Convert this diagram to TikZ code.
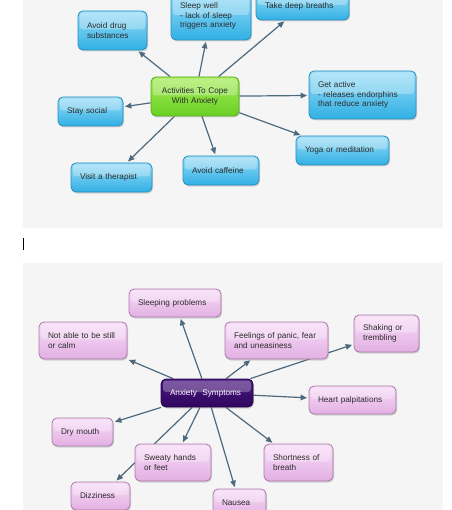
\documentclass[tikz,border=0pt]{standalone}
\usepackage{fontspec}
\setmainfont{Liberation Sans}
\usetikzlibrary{arrows.meta,shadows}
\pgfdeclarelayer{bg}
\pgfdeclarelayer{edges}
\pgfsetlayers{bg,edges,main}
\definecolor{bluetop}{HTML}{9ADDF7}
\definecolor{bluebot}{HTML}{30B0E4}
\definecolor{blueline}{HTML}{2A8DBF}
\definecolor{greentop}{HTML}{A6EC58}
\definecolor{greenbot}{HTML}{68D024}
\definecolor{greenline}{HTML}{5AA81E}
\definecolor{pinktop}{HTML}{F8DCF8}
\definecolor{pinkbot}{HTML}{E2B0E2}
\definecolor{pinkline}{HTML}{A87AA8}
\definecolor{purptop}{HTML}{4A1880}
\definecolor{purpbot}{HTML}{30065E}
\definecolor{purpline}{HTML}{24004A}
\definecolor{arrowc}{HTML}{4D697E}
\definecolor{txt}{HTML}{2C2C2C}
\definecolor{panel}{HTML}{F5F5F5}
\tikzset{
  box/.style={draw, line width=0.8bp, rounded corners=5bp, inner xsep=9bp, inner ysep=0bp,
    align=left, text=txt, font=\fontsize{8.2bp}{9.5bp}\selectfont,
    drop shadow={shadow xshift=1bp, shadow yshift=-1.5bp, opacity=0.3},
    path picture={\fill[white,opacity=0.28,rounded corners=3bp]
      ([shift={(2bp,-1.5bp)}]path picture bounding box.north west) rectangle
      ([shift={(-2bp,1bp)}]path picture bounding box.east);}},
  sz/.style n args={3}{minimum width=#1bp, text width=#2bp, minimum height=#3bp},
  bluebox/.style={box, draw=blueline, top color=bluetop, bottom color=bluebot},
  pinkbox/.style={box, draw=pinkline, top color=pinktop, bottom color=pinkbot},
  greenbox/.style={box, draw=greenline, top color=greentop, bottom color=greenbot, align=center},
  purpbox/.style={box, draw=purpline, top color=purptop, bottom color=purpbot, text=white},
  link/.style={draw=arrowc, line width=1.2bp, -{Triangle[length=6.5bp,width=5.5bp]}, shorten >=1.5bp},
}
\begin{document}
\begin{tikzpicture}[x=1bp,y=-1bp]
\useasboundingbox (0,0) rectangle (452,510);
\clip (0,0) rectangle (452,510);
\begin{pgfonlayer}{bg}
  \fill[white] (0,0) rectangle (452,510);
  \fill[panel] (23,0) rectangle (443,228);
  \fill[panel] (23,263) rectangle (443,510);
  \draw[black, line width=1bp] (23.5,238) -- (23.5,250);
\end{pgfonlayer}
% top map
\node[greenbox, sz={88}{70}{39}] (cope) at (195,96.5) {Activities To Cope\\With Anxiety};
\node[bluebox, sz={69}{51}{39}] (drug) at (112.5,30.5) {Avoid drug\\substances};
\node[bluebox, sz={80}{62}{48}] (sleep) at (211,16) {Sleep well\\- lack of sleep\\triggers anxiety};
\node[bluebox, sz={93}{75}{28}] (breath) at (302.5,6) {Take deep breaths};
\node[bluebox, sz={107}{89}{48}] (active) at (362.5,95) {Get active\\- releases endorphins\\that reduce anxiety};
\node[bluebox, sz={65}{47}{29}] (social) at (90.5,111.5) {Stay social};
\node[bluebox, sz={93}{75}{29}] (yoga) at (342.5,150.5) {Yoga or meditation};
\node[bluebox, sz={81}{63}{29}] (therapist) at (111.5,177.5) {Visit a therapist};
\node[bluebox, sz={76}{58}{29}] (caffeine) at (221,170.5) {Avoid caffeine};
% bottom map
\node[purpbox, sz={92}{74}{28}] (symp) at (207,393) {Anxiety~~Symptoms};
\node[pinkbox, sz={92}{74}{28}] (sleeping) at (175,303) {Sleeping problems};
\node[pinkbox, sz={88}{70}{37}] (still) at (83,340.5) {Not able to be still\\or calm};
\node[pinkbox, sz={103}{85}{37}] (panic) at (276.5,340.5) {Feelings of panic, fear\\and uneasiness};
\node[pinkbox, sz={65}{47}{37}] (shaking) at (386.5,333.5) {Shaking or\\trembling};
\node[pinkbox, sz={87}{69}{28}] (heart) at (352.5,400) {Heart palpitations};
\node[pinkbox, sz={61}{43}{28}] (dry) at (82.5,432) {Dry mouth};
\node[pinkbox, sz={76}{58}{37}] (sweaty) at (173,462.5) {Sweaty hands\\or feet};
\node[pinkbox, sz={69}{51}{37}] (short) at (298.5,462.5) {Shortness of\\breath};
\node[pinkbox, sz={59}{41}{28}] (dizzy) at (100.5,496) {Dizziness};
\node[pinkbox, sz={53}{35}{28}] (nausea) at (239.5,503) {Nausea};
\begin{pgfonlayer}{edges}
  \draw[link] (cope) -- (drug);
  \draw[link] (cope) -- (sleep);
  \draw[link] (cope) -- (breath);
  \draw[link] (cope) -- (active);
  \draw[link] (cope) -- (social);
  \draw[link] (cope) -- (yoga);
  \draw[link] (cope) -- (therapist);
  \draw[link] (cope) -- (caffeine);
  \draw[link] (symp) -- (sleeping);
  \draw[link] (symp) -- (still);
  \draw[link] (symp) -- (panic);
  \draw[link] (symp) -- (shaking);
  \draw[link] (symp) -- (heart);
  \draw[link] (symp) -- (dry);
  \draw[link] (symp) -- (sweaty);
  \draw[link] (symp) -- (short);
  \draw[link] (symp) -- (dizzy);
  \draw[link] (symp) -- (nausea);
\end{pgfonlayer}
\end{tikzpicture}
\end{document}
